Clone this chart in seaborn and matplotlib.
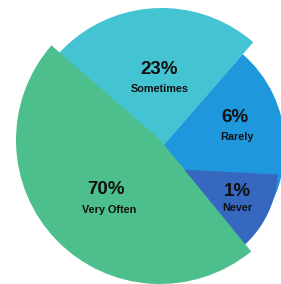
import matplotlib
matplotlib.use("Agg")
import matplotlib.pyplot as plt
import seaborn as sns

# ---- data ----
categories = ["Very Often", "Sometimes", "Rarely", "Never"]
percent_labels = [70, 23, 6, 1]
# apparent angular share of each drawn wedge (fraction of a full circle)
slice_shares = [0.4733, 0.4194, 0.2611, 0.3247]

# ---- layout / style (pixel-like units, y up) ----
H = 284
colors = sns.color_palette(["#4DBF8D", "#44C3D3", "#1F97DD", "#3668BF"])
start_deg = [138.9, 49.0, -45.0, -120.0]
centers = [(160, H - 140), (161.7, H - 147.5), (162, H - 147), (175, H - 169)]
radii = [144, 139.5, 123, 103]
draw_order = [1, 2, 3, 0]
pct_pos = [(106, H - 189), (159, H - 70), (235, H - 118), (237, H - 192)]
name_pos = [(109, H - 210), (160, H - 89), (237, H - 137), (237, H - 208)]

sns.set_theme(style="white")
plt.rcParams["font.family"] = ["Liberation Sans", "DejaVu Sans"]

fig = plt.figure(figsize=(2.81, 2.84), dpi=100)
ax = fig.add_axes([0, 0, 1, 1])

for z, i in enumerate(draw_order):
    wedges, _ = ax.pie([slice_shares[i]], normalize=False, startangle=start_deg[i],
                       center=centers[i], radius=radii[i], colors=[colors[i]],
                       wedgeprops=dict(linewidth=0, zorder=z + 1))

for i in range(len(categories)):
    ax.text(*pct_pos[i], f"{percent_labels[i]}%", ha="center", va="center",
            fontsize=13.5, fontweight="bold", color="#111111", zorder=10)
    ax.text(*name_pos[i], categories[i], ha="center", va="center",
            fontsize=7.8, fontweight="bold", color="#111111", zorder=10)

ax.set_xlim(0, 281)
ax.set_ylim(0, H)
ax.set_aspect("equal")
ax.axis("off")
fig.savefig("out.png", dpi=100, facecolor="white")
